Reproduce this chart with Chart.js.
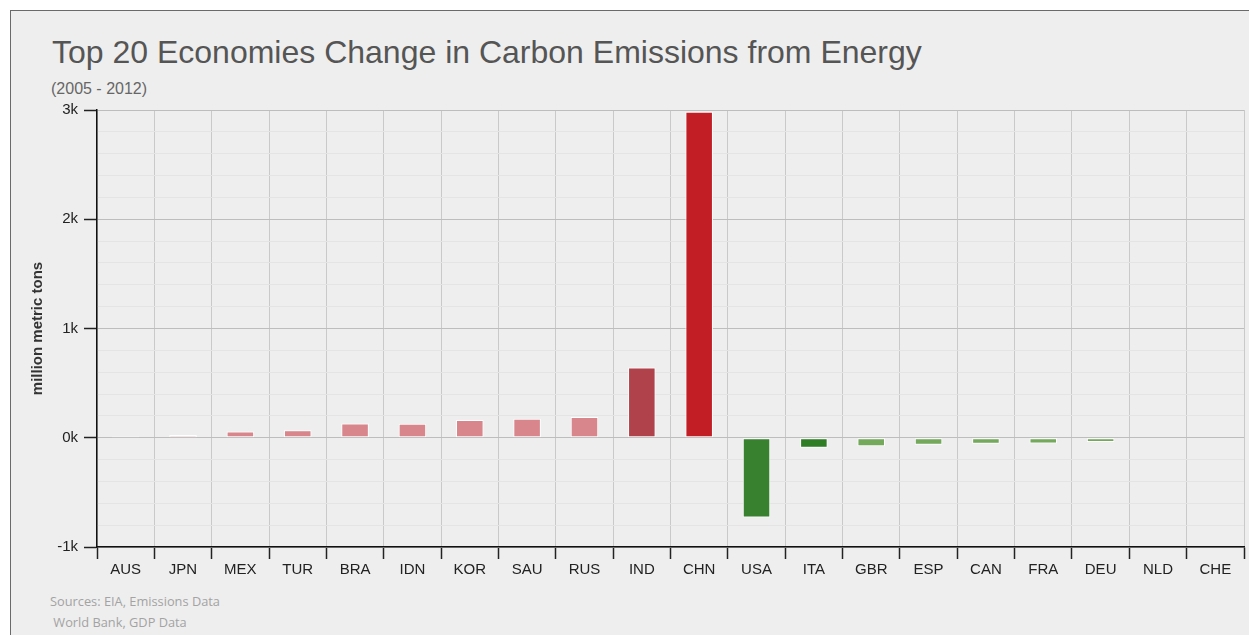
<!DOCTYPE html>
<html lang="en">
<head>
  <meta charset="UTF-8">
  <title>Top 20 Economies Change in Carbon Emissions from Energy</title>
  <script src="https://cdn.jsdelivr.net/npm/chart.js"></script>
  <style>
    html, body {
      margin: 0;
      padding: 0;
      background: #fff;
      width: 1249px;
      height: 635px;
      overflow: hidden;
      font-family: "Liberation Sans", Arial, sans-serif;
    }

    /* grey panel behind the chart */
    .panel {
      position: absolute;
      left: 10px;
      top: 10px;
      width: 1250px;
      height: 640px;
      background: #eeeeee;
      border-top: 1.5px solid #6a6a6a;
      border-left: 1.5px solid #6a6a6a;
    }

    .title {
      position: absolute;
      left: 52px;
      top: 36px;
      font-size: 32px;
      line-height: 1;
      color: #555;
      white-space: nowrap;
    }

    .subtitle {
      position: absolute;
      left: 51px;
      top: 81px;
      font-size: 16px;
      line-height: 1;
      color: #666;
    }

    .sources {
      position: absolute;
      left: 50px;
      top: 591px;
      font-family: "Open Sans", sans-serif;
      font-size: 12.8px;
      line-height: 21px;
      color: #a3a3a3;
      white-space: pre;
    }

    #chart {
      position: absolute;
      left: 0;
      top: 0;
    }
  </style>
</head>
<body>
  <div class="panel"></div>
  <div class="title">Top 20 Economies Change in Carbon Emissions from Energy</div>
  <div class="subtitle">(2005 - 2012)</div>
  <div class="sources">Sources: EIA, Emissions Data
 World Bank, GDP Data</div>

  <canvas id="chart" width="1249" height="635"></canvas>

  <script>
    // Countries, ordered as in the chart
    const countries = ['AUS', 'JPN', 'MEX', 'TUR', 'BRA', 'IDN', 'KOR', 'SAU', 'RUS', 'IND',
                       'CHN', 'USA', 'ITA', 'GBR', 'ESP', 'CAN', 'FRA', 'DEU', 'NLD', 'CHE'];

    // Change in emissions 2005-2012, million metric tons
    const emissionChange = [12, 25, 58, 68, 130, 128, 162, 175, 190, 642,
                            2985, -730, -92, -78, -65, -55, -52, -38, 0, 0];

    // Bar fill colours
    const barColors = ['#ffffff', '#e2a2a7', '#d8868c', '#d8868c', '#d8868c', '#d8868c', '#d8868c', '#d8868c', '#d8868c', '#b0424b',
                       '#c21e26', '#37812f', '#2f7d24', '#74a85b', '#74a85b', '#74a85b', '#74a85b', '#74a85b', '#74a85b', '#74a85b'];

    // Y axis range and labelled ticks
    const yMin = -1000;
    const yMax = 3000;
    const yLabels = { '-1000': '-1k', '0': '0k', '1000': '1k', '2000': '2k', '3000': '3k' };

    const ctx = document.getElementById('chart').getContext('2d');
    const chart = new Chart(ctx, {
      type: 'bar',
      data: {
        labels: countries,
        datasets: [{
          data: emissionChange,
          backgroundColor: barColors,
          borderColor: '#ffffff',
          borderWidth: 1,
          borderSkipped: false,
          barPercentage: 0.48,
          categoryPercentage: 1
        }]
      },
      options: {
        responsive: false,
        animation: false,
        layout: {
          padding: { top: 110, right: 5, bottom: 58, left: 0 }
        },
        plugins: {
          legend: { display: false },
          tooltip: { enabled: false }
        },
        scales: {
          x: {
            offset: true,
            grid: {
              offset: true,
              color: '#c9c9c9',
              lineWidth: 1,
              tickLength: 12,
              tickColor: '#222',
              tickWidth: 1.5
            },
            border: { color: '#111', width: 1.5 },
            ticks: {
              color: '#222',
              padding: 2,
              autoSkip: false,
              maxRotation: 0,
              font: { family: 'Liberation Sans', size: 15 }
            },
            afterFit: (scale) => { scale.height = 30; }
          },
          y: {
            min: yMin,
            max: yMax,
            grid: {
              color: (c) => (c.tick && c.tick.value % 1000 === 0) ? '#bdbdbd' : '#e4e4e4',
              lineWidth: 1,
              tickLength: 13,
              tickColor: (c) => (c.tick && c.tick.value % 1000 === 0) ? '#222' : 'rgba(0,0,0,0)',
              tickWidth: 1.5
            },
            border: { color: '#111', width: 1.5 },
            ticks: {
              stepSize: 200,
              autoSkip: false,
              color: '#222',
              padding: 6,
              font: { family: 'Liberation Sans', size: 15 },
              callback: (v) => yLabels[String(v)] || ''
            },
            title: {
              display: true,
              text: 'million metric tons',
              color: '#333',
              padding: { top: 29, bottom: 0 },
              font: { family: 'Liberation Sans', size: 15, weight: 'bold' }
            },
            afterFit: (scale) => { scale.width = 97; }
          }
        }
      }
    });
  </script>
</body>
</html>
